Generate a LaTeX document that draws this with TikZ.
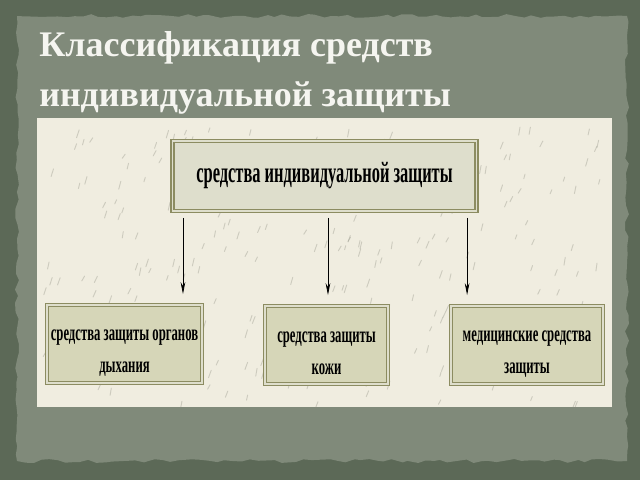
\documentclass[tikz,border=0pt]{standalone}
\usepackage{fontspec}
\setmainfont{Liberation Serif}
\newfontfamily\boxfont[FakeStretch=0.56]{Liberation Serif}
\usetikzlibrary{arrows.meta,decorations.pathmorphing}
\definecolor{fond}{rgb}{0.36, 0.41, 0.34}
\definecolor{plaque}{rgb}{0.50, 0.54, 0.48}
\definecolor{papier}{rgb}{0.94, 0.93, 0.88}
\definecolor{grain}{rgb}{0.55, 0.55, 0.50}
\definecolor{cadre}{rgb}{0.55, 0.55, 0.38}
\definecolor{clair}{rgb}{0.87, 0.87, 0.80}
\definecolor{olive}{rgb}{0.84, 0.84, 0.72}
\definecolor{titre}{rgb}{0.96, 0.96, 0.94}
\newcommand{\bas}{\rule{0pt}{21pt}}

\begin{document}
\begin{tikzpicture}[x=0.75pt, y=-0.75pt]
	\tikzstyle{box}=[rectangle, draw=cadre, line width=0.9pt, double=clair, double distance=1.3pt, text=black, inner sep=2pt, align=center]
	\tikzstyle{sub}=[box, fill=olive, minimum height=59pt, font=\boxfont\bfseries\fontsize{17}{24}\selectfont]
	\tikzstyle{arr}=[-{Stealth[length=9pt, width=3.5pt]}, line width=0.6pt, black]

	% FOND
	\useasboundingbox (0,0) rectangle (640,480);
	\fill[fond] (0,0) rectangle (640,480);
	\pgfmathsetseed{7}
	\fill[plaque, decorate, decoration={random steps, segment length=6pt, amplitude=1.5pt}] (17,16) rectangle (627,461);
	\fill[papier] (37,118) rectangle (612,407);
	% grain du papier
	\foreach \i in {1,...,260}
		\draw[grain, opacity=0.35, line width=0.7pt, line cap=round] (45+560*rnd, 124+278*rnd) -- ++(2*rnd-3, 4+4*rnd);

	% TITRE
	\node[anchor=north west, align=left, inner sep=0, text=titre, font=\bfseries\fontsize{27}{38}\selectfont] (title) at (39,31) {Классификация средств\\индивидуальной защиты};

	% BLOCS
	\node[box, fill=clair, minimum width=228pt, minimum height=53pt, font=\boxfont\bfseries\fontsize{22}{24}\selectfont] (SIZ) at (324.5,176) {средства индивидуальной защиты};
	\node[sub, minimum width=116pt] (Dyh) at (124.5,344) {\bas средства защиты органов\\дыхания};
	\node[sub, minimum width=92pt] (Koj) at (326.5,345) {\bas средства защиты\\кожи};
	\node[sub, minimum width=114pt] (Med) at (527,345) {\bas медицинские средства\\защиты};

	% FLECHES
	\draw[arr, shorten <=4.5pt, shorten >=7.5pt] ([xshift=8.3pt]SIZ.south west) -- ([xshift=8.3pt]SIZ.south west |- Dyh.north);
	\draw[arr, shorten <=4.5pt, shorten >=7.5pt] ([xshift=2.6pt]SIZ.south) -- ([xshift=2.6pt]SIZ.south |- Koj.north);
	\draw[arr, shorten <=4.5pt, shorten >=7.5pt] ([xshift=-7.5pt]SIZ.south east) -- ([xshift=-7.5pt]SIZ.south east |- Med.north);
\end{tikzpicture}
\end{document}
